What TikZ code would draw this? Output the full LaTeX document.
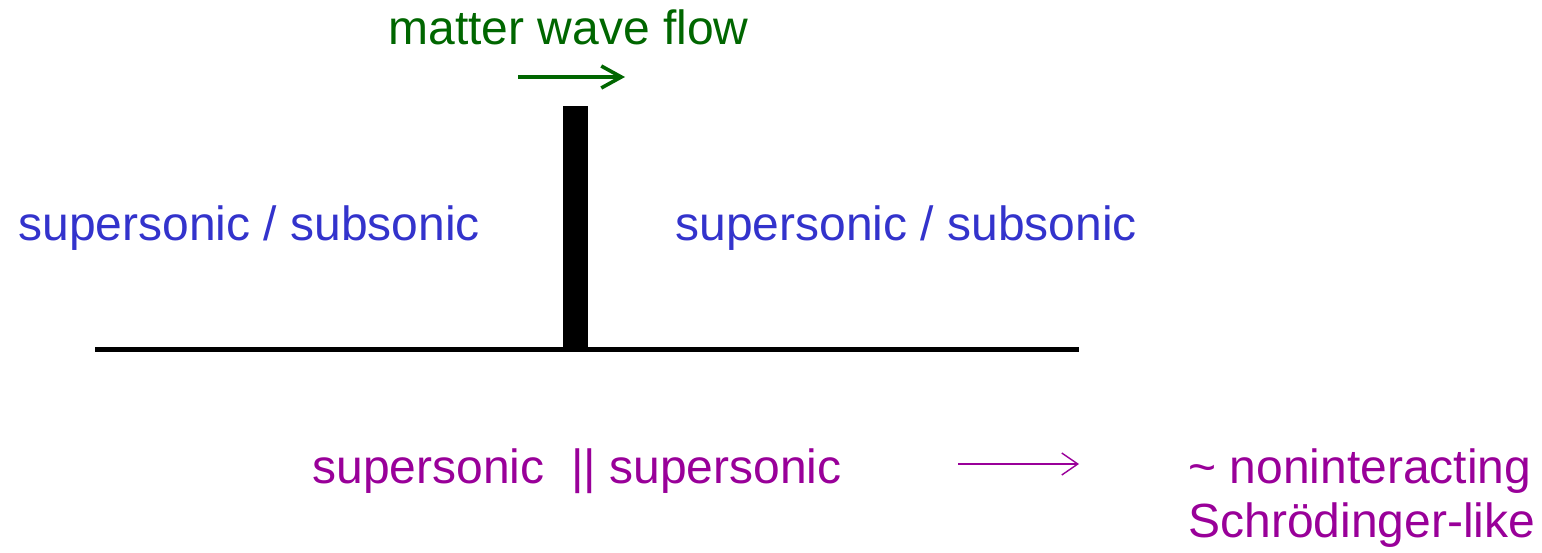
\documentclass[tikz,border=0pt]{standalone}
\usepackage{fontspec}
\setmainfont{Liberation Sans}
\usetikzlibrary{arrows.meta}
\definecolor{flowgreen}{RGB}{0,102,0}
\definecolor{sonicblue}{RGB}{51,51,204}
\definecolor{limitpurple}{RGB}{153,0,153}
\begin{document}
\begin{tikzpicture}[x=0.5pt,y=-0.5pt,
  lbl/.style={inner sep=0pt,anchor=base west,font=\fontsize{24}{29}\selectfont}]
  \useasboundingbox (0,0) rectangle (1542,552);
  \def\yg{349}
  \coordinate (G1) at (95,\yg);
  \coordinate (G2) at (1079,\yg);
  \coordinate (W1) at (563,106);
  \coordinate (W2) at (588,\yg);
  \coordinate (F1) at (518,77);
  \coordinate (F2) at (625,77);
  \coordinate (L1) at (958,464);
  \coordinate (L2) at (1079,464);
  \draw[line width=2.5pt] (G1)--(G2);
  \fill (W1) rectangle (W2);
  \draw[flowgreen,line width=1.8pt,-{Straight Barb[length=10pt,width=11pt]}] (F1)--(F2);
  \draw[limitpurple,line width=0.7pt,-{Straight Barb[length=8pt,width=11pt]}] (L1)--(L2);
  \node[lbl,text=flowgreen] (flow) at (388,44) {matter wave flow};
  \node[lbl,text=sonicblue] (left) at (18,240) {supersonic / subsonic};
  \node[lbl,text=sonicblue] (right) at (675,240) {supersonic / subsonic};
  \node[lbl,text=limitpurple] (both) at (312,483) {supersonic \ || supersonic};
  \node[lbl,text=limitpurple] (free) at (1188,483) {\textasciitilde{} noninteracting};
  \node[lbl,text=limitpurple] (schr) at (1188,537) {Schrödinger-like};
\end{tikzpicture}
\end{document}
